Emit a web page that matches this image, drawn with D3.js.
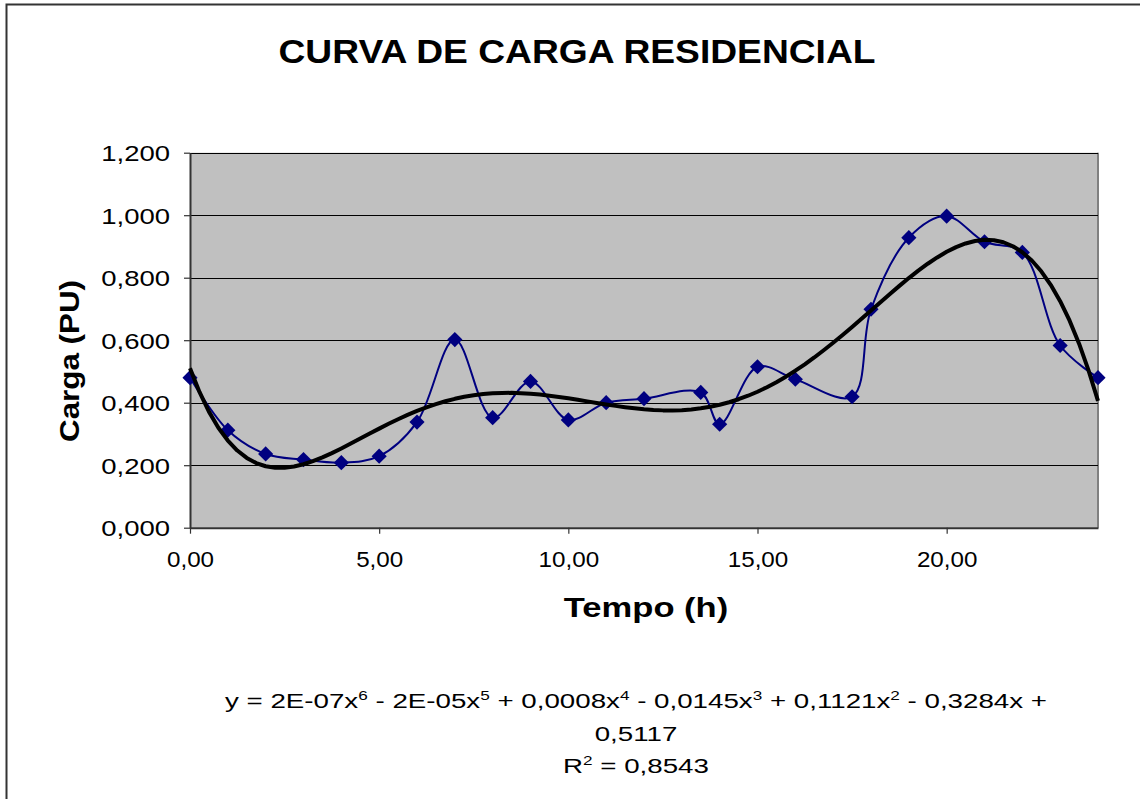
<!DOCTYPE html>
<html>
<head>
<meta charset="utf-8">
<script src="https://cdn.jsdelivr.net/npm/d3@7"></script>
<style>
  body { margin: 0; background: #fff; }
  svg { display: block; font-family: "Liberation Sans", Arial, sans-serif; }
</style>
</head>
<body>
<div id="canvas"></div>
<script>
"use strict";

/* ===============================
   Data */
let hours = [0, 1, 2, 3, 4, 5, 6, 7, 8, 9, 10, 11, 12, 13.5, 14, 15, 16, 17.5, 18, 19, 20, 21, 22, 23, 24];
let load = [0.480, 0.312, 0.236, 0.218, 0.208, 0.229, 0.338, 0.602, 0.352, 0.468, 0.345, 0.400, 0.413,
            0.433, 0.331, 0.515, 0.475, 0.419, 0.699, 0.928, 0.997, 0.915, 0.881, 0.583, 0.480];
let yTicks = [0, 0.2, 0.4, 0.6, 0.8, 1.0, 1.2];
let xTicks = [0, 5, 10, 15, 20];
let fitOrder = 6;

/* ===============================
   Configuration */
let svgWidth = 1140;
let svgHeight = 799;
let plotLeft = 190;
let plotRight = 1098;
let plotTop = 152.7;
let plotBottom = 527.7;
let navy = "#000080";
/* the original picture is stretched sideways, so text is widened to match */
let wideK = 1.28;

let svg = d3.select("#canvas")
  .append("svg")
  .attr("width", svgWidth)
  .attr("height", svgHeight);

/* outer chart border (only top and left edges fall inside the picture) */
svg.append("rect")
  .attr("x", 6.5)
  .attr("y", 4.5)
  .attr("width", svgWidth + 20)
  .attr("height", svgHeight + 20)
  .attr("fill", "none")
  .attr("stroke", "#333")
  .attr("stroke-width", 2);

let xScale = d3.scaleLinear().domain([0, 24]).range([plotLeft, plotRight]);
let yScale = d3.scaleLinear().domain([0, 1.2]).range([plotBottom, plotTop]);

/* plot area background */
svg.append("rect")
  .attr("x", plotLeft)
  .attr("y", plotTop)
  .attr("width", plotRight - plotLeft)
  .attr("height", plotBottom - plotTop)
  .attr("fill", "#c0c0c0");

/* right edge of plot area */
svg.append("line")
  .attr("x1", plotRight).attr("x2", plotRight)
  .attr("y1", plotTop).attr("y2", plotBottom)
  .attr("stroke", "#808080")
  .attr("stroke-width", 2);

/* gridlines */
svg.append("g")
  .selectAll("line")
  .data(yTicks.slice(1))
  .join("line")
  .attr("x1", plotLeft).attr("x2", plotRight)
  .attr("y1", function (d) { return Math.round(yScale(d)) + 0.5; })
  .attr("y2", function (d) { return Math.round(yScale(d)) + 0.5; })
  .attr("stroke", "#000")
  .attr("stroke-width", 1);

/* axes */
let commaFmt = function (f) {
  return function (d) { return d3.format(f)(d).replace(".", ","); };
};

let yAxis = svg.append("g")
  .attr("transform", "translate(" + plotLeft + ",0)")
  .call(d3.axisLeft(yScale).tickValues(yTicks).tickSize(6).tickSizeOuter(0).tickPadding(14)
    .tickFormat(commaFmt(".3f")));

let xAxis = svg.append("g")
  .attr("transform", "translate(0," + plotBottom + ")")
  .call(d3.axisBottom(xScale).tickValues(xTicks).tickSize(6).tickSizeOuter(0).tickPadding(14)
    .tickFormat(commaFmt(".2f")));

[yAxis, xAxis].forEach(function (ax) {
  ax.select(".domain").attr("stroke", "#333").attr("stroke-width", 2);
  ax.selectAll(".tick line").attr("stroke", "#333").attr("stroke-width", 1.2);
  ax.selectAll(".tick text")
    .attr("font-family", "Liberation Sans, Arial, sans-serif")
    .attr("font-size", 22)
    .attr("fill", "#000");
});
yAxis.selectAll(".tick text")
  .attr("dy", "0.36em")
  .attr("x", -20 / 1.25)
  .attr("transform", "scale(1.25,1)");
xAxis.selectAll(".tick text")
  .attr("dy", "0.9em")
  .attr("transform", "scale(1.1,1)");

/* ===============================
   Polynomial trendline (least squares, order 6) */
function polyFit(xs, ys, order) {
  let n = order + 1;
  let A = [];
  for (let i = 0; i < n; i++) {
    A.push(new Array(n + 1).fill(0));
  }
  for (let k = 0; k < xs.length; k++) {
    let t = (xs[k] - 12) / 12;
    let pw = [];
    for (let i = 0; i < 2 * n; i++) pw.push(Math.pow(t, i));
    for (let i = 0; i < n; i++) {
      for (let j = 0; j < n; j++) A[i][j] += pw[i + j];
      A[i][n] += pw[i] * ys[k];
    }
  }
  for (let c = 0; c < n; c++) {
    let p = c;
    for (let r = c + 1; r < n; r++) if (Math.abs(A[r][c]) > Math.abs(A[p][c])) p = r;
    let tmp = A[c]; A[c] = A[p]; A[p] = tmp;
    for (let r = 0; r < n; r++) {
      if (r === c) continue;
      let f = A[r][c] / A[c][c];
      for (let j = c; j <= n; j++) A[r][j] -= f * A[c][j];
    }
  }
  let coef = A.map(function (row, i) { return row[n] / row[i]; });
  return function (x) {
    let t = (x - 12) / 12;
    let s = 0;
    for (let i = n - 1; i >= 0; i--) s = s * t + coef[i];
    return s;
  };
}

let trend = polyFit(hours, load, fitOrder);
let trendPts = d3.range(0, 24.001, 0.25).map(function (x) { return [x, trend(x)]; });

/* data line (smoothed) */
let pts = hours.map(function (h, i) { return [h, load[i]]; });

svg.append("path")
  .datum(pts)
  .attr("fill", "none")
  .attr("stroke", navy)
  .attr("stroke-width", 2)
  .attr("d", d3.line()
    .x(function (d) { return xScale(d[0]); })
    .y(function (d) { return yScale(d[1]); })
    .curve(d3.curveCatmullRom.alpha(0.5)));

/* markers */
svg.append("g")
  .selectAll("path")
  .data(pts)
  .join("path")
  .attr("d", d3.symbol().type(d3.symbolSquare).size(115))
  .attr("transform", function (d) {
    return "translate(" + xScale(d[0]) + "," + yScale(d[1]) + ") rotate(45)";
  })
  .attr("fill", navy);

/* trendline on top */
svg.append("path")
  .datum(trendPts)
  .attr("fill", "none")
  .attr("stroke", "#000")
  .attr("stroke-width", 4)
  .attr("stroke-linejoin", "round")
  .attr("d", d3.line()
    .x(function (d) { return xScale(d[0]); })
    .y(function (d) { return yScale(d[1]); }));

/* ===============================
   Texts */
function wideText(x, y, k, size, bold) {
  return svg.append("text")
    .attr("transform", "translate(" + x + "," + y + ") scale(" + k + ",1)")
    .attr("text-anchor", "middle")
    .attr("font-size", size)
    .attr("font-weight", bold ? "bold" : "normal");
}

svg.append("text")
  .attr("x", 577)
  .attr("y", 63)
  .attr("text-anchor", "middle")
  .attr("font-size", 33)
  .attr("font-weight", "bold")
  .attr("textLength", 597)
  .attr("lengthAdjust", "spacingAndGlyphs")
  .text("CURVA DE CARGA RESIDENCIAL");

wideText(646, 617, wideK, 27, true).text("Tempo (h)");

svg.append("text")
  .attr("transform", "translate(79,361) rotate(-90) scale(1.12,1)")
  .attr("text-anchor", "middle")
  .attr("font-size", 28)
  .attr("font-weight", "bold")
  .text("Carga (PU)");

/* trendline equation */
let eq = wideText(636, 708, 1.32, 21, false);

let eqParts = [
  ["y = 2E-07x", "6"], [" - 2E-05x", "5"], [" + 0,0008x", "4"], [" - 0,0145x", "3"],
  [" + 0,1121x", "2"], [" - 0,3284x +", ""]
];
let raised = false;
eqParts.forEach(function (p) {
  eq.append("tspan").attr("dy", raised ? 8 : 0).text(p[0]);
  raised = false;
  if (p[1]) {
    eq.append("tspan").attr("font-size", 13).attr("dy", -8).text(p[1]);
    raised = true;
  }
});

wideText(636, 741, 1.32, 21, false).text("0,5117");

let r2 = wideText(636, 773, 1.32, 21, false);
r2.append("tspan").text("R");
r2.append("tspan").attr("font-size", 13).attr("dy", -8).text("2");
r2.append("tspan").attr("dy", 8).text(" = 0,8543");
</script>
</body>
</html>
